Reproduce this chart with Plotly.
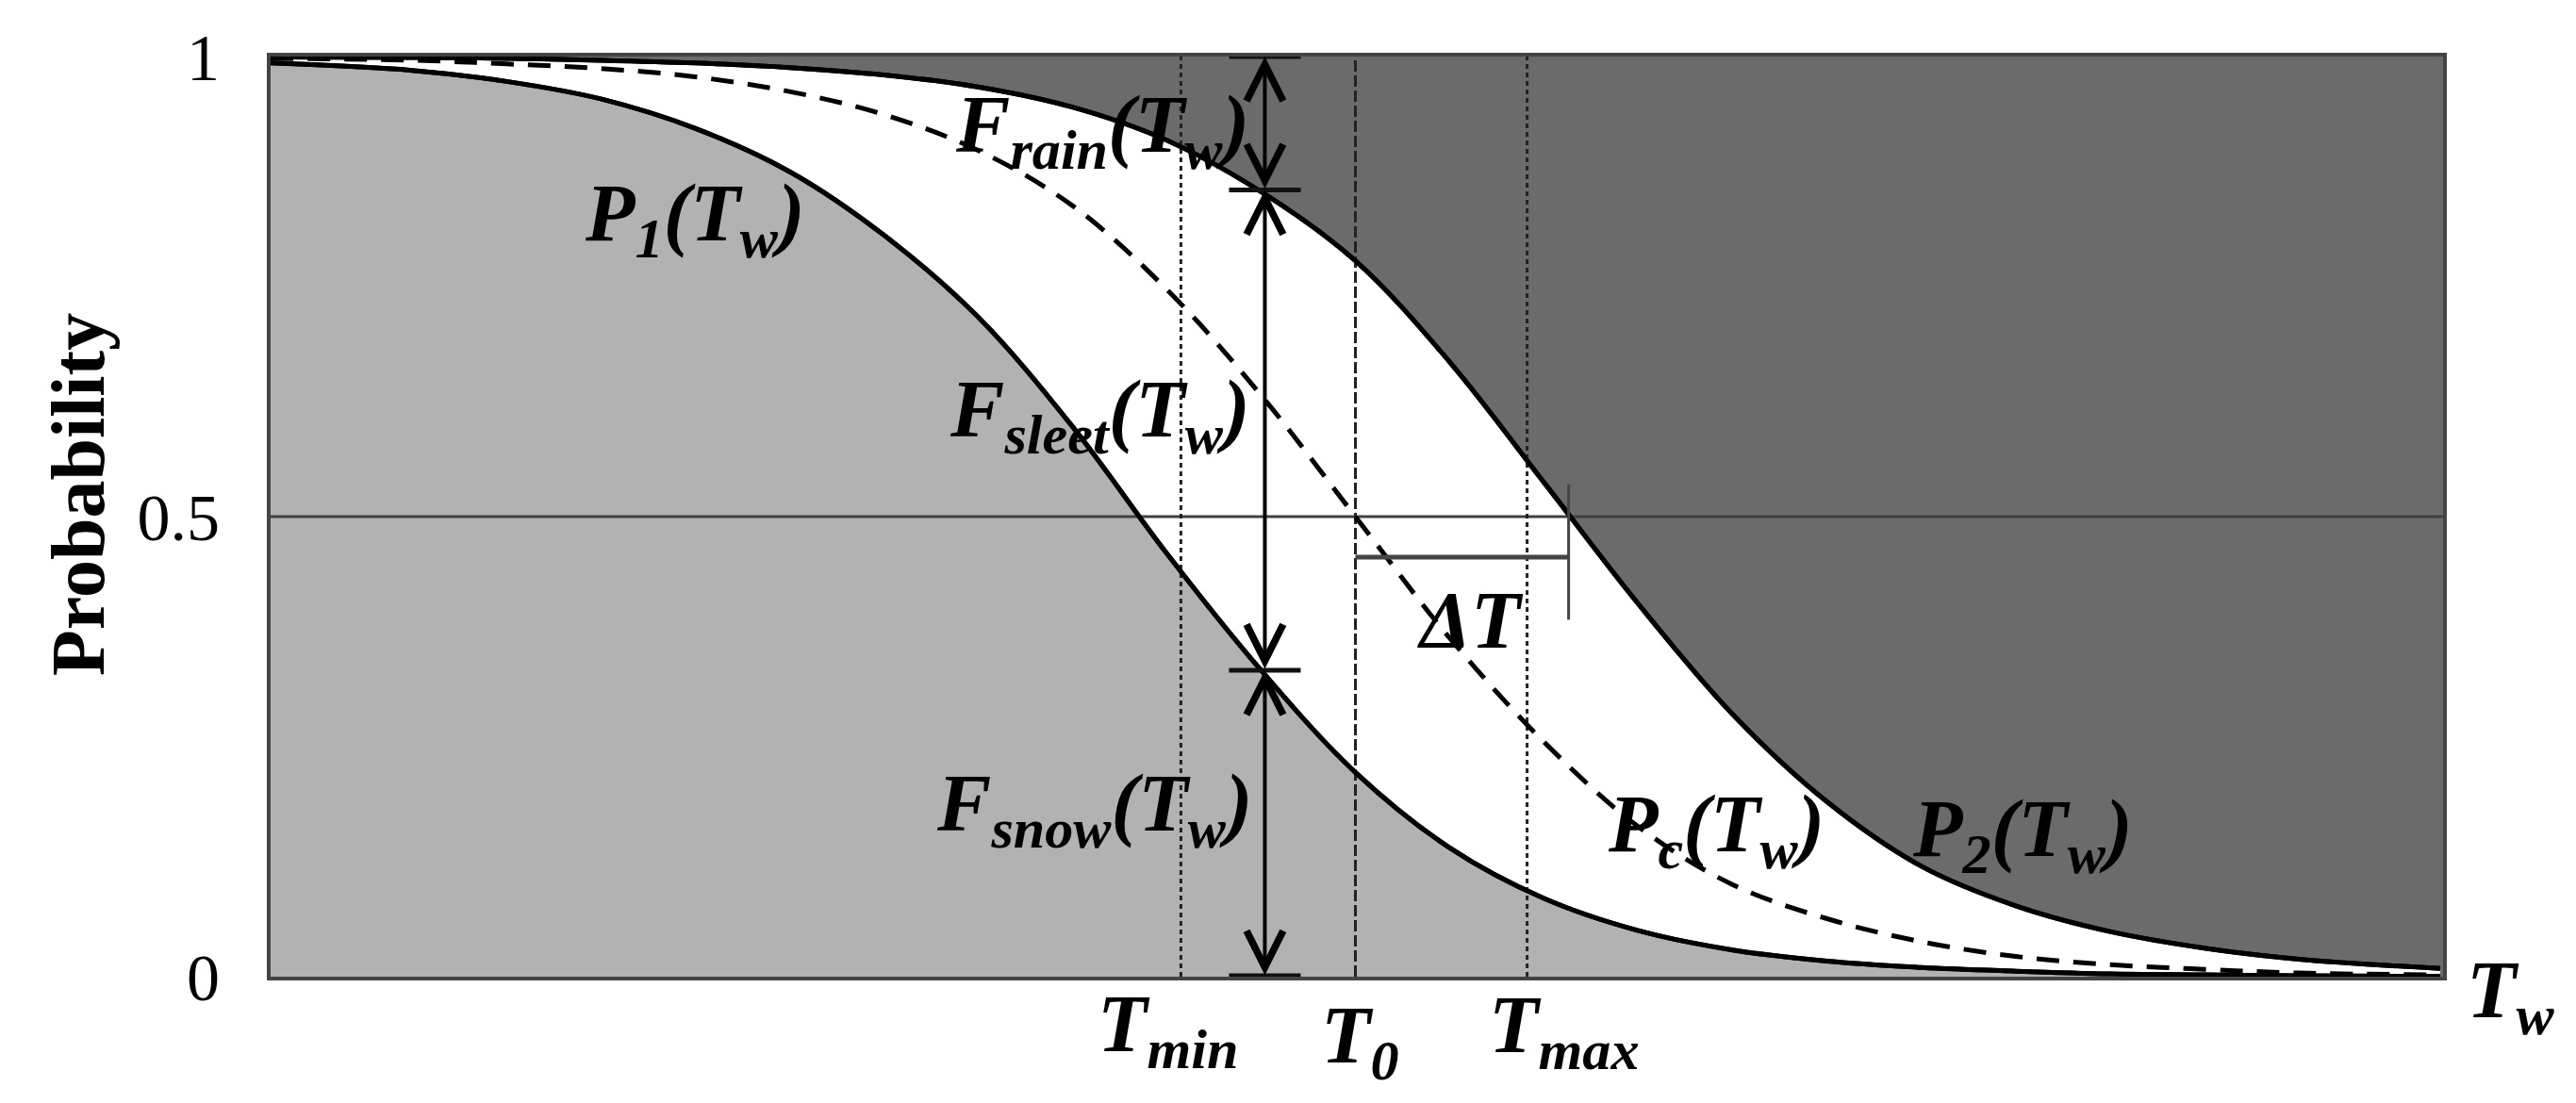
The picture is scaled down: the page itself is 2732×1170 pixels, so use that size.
import plotly.graph_objects as go

# wet-bulb temperature grid (arbitrary units, T0 = 0)
tw = [-11.5, -10, -9, -8, -7, -6, -5, -4, -3, -2, -1, 0, 1, 2, 3, 4, 5, 6, 7, 8, 9, 10, 11.5]

# lower curve P1(Tw): snow / non-snow boundary
p1 = [0.993, 0.985, 0.973, 0.954, 0.922, 0.875, 0.806, 0.717, 0.598, 0.46, 0.333, 0.222,
      0.14, 0.085, 0.05, 0.029, 0.017, 0.01, 0.006, 0.003, 0.002, 0.001, 0.0004]
# upper curve P2(Tw): rain boundary
p2 = [0.9995, 0.999, 0.998, 0.996, 0.993, 0.988, 0.98, 0.967, 0.945, 0.909, 0.853, 0.778,
      0.668, 0.537, 0.405, 0.285, 0.19, 0.12, 0.077, 0.049, 0.031, 0.019, 0.009]
# dashed curve Pc(Tw)
pc = [0.998, 0.996, 0.992, 0.987, 0.978, 0.962, 0.937, 0.898, 0.838, 0.747, 0.632, 0.5,
      0.368, 0.255, 0.163, 0.1, 0.063, 0.038, 0.022, 0.013, 0.008, 0.004, 0.002]

t_min, t_0, t_max = -1.85, 0.0, 1.82
t_arrow = -0.96
arrow_levels = [0.0, 0.333, 0.855, 1.0]   # Fsnow / Fsleet / Frain split at t_arrow
delta_t = 2.26
delta_y = 0.456
delta_tick = [0.388, 0.535]
tick_half = 0.38

X_RANGE = [-11.5, 11.53]
FONT = "Liberation Serif"
DARK = "#6b6b6b"
LIGHT = "#b2b2b2"

fig = go.Figure()

# fills: above P2 = plot background (dark), P2..P1 white, below P1 light grey
fig.add_trace(go.Scatter(x=tw, y=p2, mode="lines", line=dict(color="black", width=5, shape="spline"),
                         fill="tozeroy", fillcolor="white"))
fig.add_trace(go.Scatter(x=tw, y=p1, mode="lines", line=dict(color="black", width=5, shape="spline"),
                         fill="tozeroy", fillcolor=LIGHT))

# 0.5 reference line
fig.add_trace(go.Scatter(x=[X_RANGE[0], X_RANGE[1]], y=[0.5, 0.5], mode="lines",
                         line=dict(color="#404040", width=3)))

# Tmin / T0 / Tmax verticals
for t, dash in [(t_min, "5px,4px"), (t_0, "12px,4px"), (t_max, "5px,4px")]:
    fig.add_trace(go.Scatter(x=[t, t], y=[0, 1], mode="lines",
                             line=dict(color="#222222", width=3, dash=dash)))

# Pc dashed
fig.add_trace(go.Scatter(x=tw, y=pc, mode="lines",
                         line=dict(color="black", width=5, dash="24px,15px", shape="spline")))

# redraw solid curves on top
fig.add_trace(go.Scatter(x=tw, y=p2, mode="lines", line=dict(color="black", width=5, shape="spline")))
fig.add_trace(go.Scatter(x=tw, y=p1, mode="lines", line=dict(color="black", width=5, shape="spline")))

# horizontal ticks on the arrow
for lv in arrow_levels:
    fig.add_trace(go.Scatter(x=[t_arrow - tick_half, t_arrow + tick_half], y=[lv, lv], mode="lines",
                             line=dict(color="#111111", width=7 if lv == 0 else 5)))

# delta T bracket
fig.add_trace(go.Scatter(x=[t_0, delta_t], y=[delta_y, delta_y], mode="lines",
                         line=dict(color="#444444", width=5)))
fig.add_trace(go.Scatter(x=[delta_t, delta_t], y=delta_tick, mode="lines",
                         line=dict(color="#444444", width=3)))

annotations = []
# double-headed arrows between levels
for lo, hi in zip(arrow_levels[:-1], arrow_levels[1:]):
    annotations.append(dict(x=t_arrow, y=hi, ax=t_arrow, ay=lo, xref="x", yref="y", axref="x", ayref="y",
                            text="", showarrow=True, arrowhead=5, startarrowhead=5, arrowside="end+start",
                            arrowwidth=4, arrowsize=1.9, startarrowsize=1.9, arrowcolor="black"))

label_font = dict(family=FONT, size=86, color="black")

# labels inside the plot (data coordinates)
labels = [
    ("P<sub>1</sub>(T<sub>w</sub>)", -7.0, 0.824),
    ("F<sub>rain</sub>(T<sub>w</sub>)", -2.68, 0.92),
    ("F<sub>sleet</sub>(T<sub>w</sub>)", -2.71, 0.611),
    ("F<sub>snow</sub>(T<sub>w</sub>)", -2.77, 0.182),
    ("ΔT", 1.22, 0.387),
    ("P<sub>c</sub>(T<sub>w</sub>)", 3.82, 0.16),
    ("P<sub>2</sub>(T<sub>w</sub>)", 7.07, 0.155),
]
for txt, x, y in labels:
    annotations.append(dict(x=x, y=y, xref="x", yref="y", text=f"<b><i>{txt}</i></b>", showarrow=False,
                            xanchor="center", yanchor="middle", font=label_font))

# labels under the axis (y in paper units, below the plot)
bottom_labels = [
    ("T<sub>min</sub>", -1.98, -0.057),
    ("T<sub>0</sub>", 0.05, -0.07),
    ("T<sub>max</sub>", 2.21, -0.058),
]
for txt, x, y in bottom_labels:
    annotations.append(dict(x=x, y=y, xref="x", yref="paper", text=f"<b><i>{txt}</i></b>", showarrow=False,
                            xanchor="center", yanchor="middle", font=label_font))

# axis name Tw, right of the plot
tw_pos = 12.25
annotations.append(dict(x=(tw_pos - X_RANGE[0]) / (X_RANGE[1] - X_RANGE[0]), y=-0.02, xref="paper", yref="paper",
                        text="<b><i>T<sub>w</sub></i></b>", showarrow=False,
                        xanchor="center", yanchor="middle", font=label_font))

annotations.append(dict(x=0, y=0.5, xref="paper", yref="paper", xshift=-204, yshift=23,
                        text="<b>Probability</b>", textangle=-90, showarrow=False,
                        xanchor="center", yanchor="middle",
                        font=dict(family=FONT, size=80, color="black")))

fig.update_layout(
    width=2732, height=1170,
    margin=dict(l=279, r=149, t=52, b=142),
    plot_bgcolor=DARK, paper_bgcolor="white",
    showlegend=False,
    annotations=annotations,
    xaxis=dict(range=X_RANGE, showticklabels=False, ticks="", showgrid=False, zeroline=False,
               showline=True, linecolor="#444444", linewidth=4, mirror=True),
    yaxis=dict(range=[0, 1], tickvals=[0, 0.5, 1], ticktext=["0", "0.5", "1"],
               tickfont=dict(family=FONT, size=70, color="black"),
               ticks="outside", ticklen=36, tickcolor="rgba(0,0,0,0)",
               showgrid=False, zeroline=False,
               showline=True, linecolor="#444444", linewidth=4, mirror=True),
)

fig.write_html("out.html")
